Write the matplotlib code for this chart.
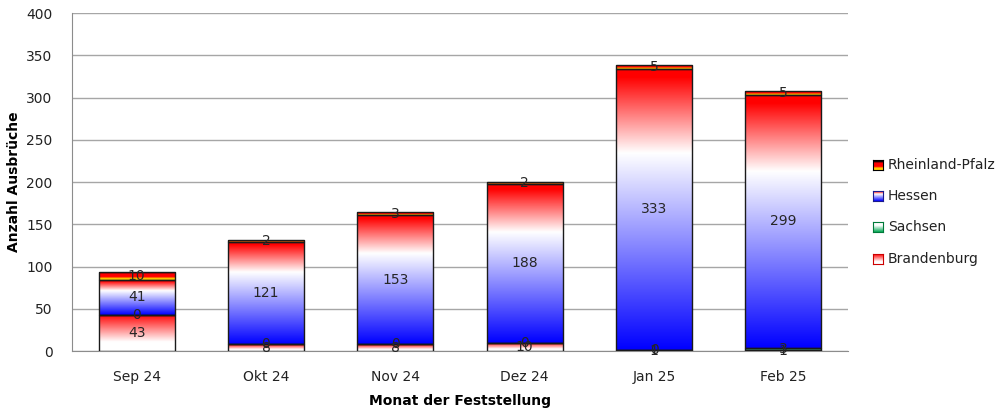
import numpy as np
import matplotlib
matplotlib.use("Agg")
import matplotlib.pyplot as plt
from matplotlib.colors import LinearSegmentedColormap

# =========================
# DATA
# =========================
months = ["Sep 24", "Okt 24", "Nov 24", "Dez 24", "Jan 25", "Feb 25"]
brandenburg = [43, 8, 8, 10, 1, 1]
sachsen = [0, 0, 0, 0, 0, 3]
hessen = [41, 121, 153, 188, 333, 299]
rheinland_pfalz = [10, 2, 3, 2, 5, 5]

series = [
    ("Brandenburg", brandenburg),
    ("Sachsen", sachsen),
    ("Hessen", hessen),
    ("Rheinland-Pfalz", rheinland_pfalz),
]

# =========================
# GRADIENTS (bottom -> top)
# =========================
GRADIENTS = {
    "Brandenburg": LinearSegmentedColormap.from_list(
        "bb", [(0, "#ffffff"), (0.25, "#ffffff"), (1, "#ff0000")]),
    "Sachsen": LinearSegmentedColormap.from_list(
        "sn", [(0, "#00a651"), (0.6, "#ffffff"), (1, "#ffffff")]),
    "Hessen": LinearSegmentedColormap.from_list(
        "he", [(0, "#0000ff"), (0.7, "#ffffff"), (0.97, "#ff0000"), (1, "#ff0000")]),
    "Rheinland-Pfalz": LinearSegmentedColormap.from_list(
        "rp", [(0, "#ffcc00"), (0.2, "#ffcc00"), (0.35, "#ff0000"),
               (0.7, "#ff0000"), (0.85, "#000000"), (1, "#000000")]),
}
grad = np.linspace(0, 1, 256).reshape(-1, 1)

fig = plt.figure(figsize=(9.97, 4.11), dpi=100)
ax = fig.add_axes([72 / 997, 60 / 411, 776 / 997, 338 / 411])

x = np.arange(len(months))
width = 0.59
bottom = np.zeros(len(months))

for name, vals in series:
    vals = np.array(vals, dtype=float)
    bars = ax.bar(x, vals, width, bottom=bottom, facecolor="none",
                  edgecolor="#1a1a1a", linewidth=1.0, zorder=3)
    for rect, v in zip(bars, vals):
        if v <= 0:
            continue
        x0, y0 = rect.get_x(), rect.get_y()
        im = ax.imshow(grad, cmap=GRADIENTS[name], origin="lower", aspect="auto",
                       extent=(x0, x0 + rect.get_width(), y0, y0 + rect.get_height()),
                       zorder=2, interpolation="bilinear")
        im.set_clip_path(rect)
    ax.bar_label(bars, labels=[f"{int(v)}" for v in vals], label_type="center",
                 fontsize=10, color="#262626", zorder=5)
    bottom += vals

ax.set_xlim(-0.5, len(months) - 0.5)
ax.set_ylim(0, 400)
ax.set_yticks(range(0, 401, 50))
ax.set_xticks(x)
ax.set_xticklabels(months)
ax.tick_params(axis="both", length=0, labelsize=10, colors="#222222")
ax.tick_params(axis="x", pad=14)
ax.tick_params(axis="y", pad=14)
ax.grid(axis="y", color="#a6a6a6", linewidth=1, zorder=0)
ax.set_axisbelow(True)
for s in ["top", "right"]:
    ax.spines[s].set_visible(False)
for s in ["left", "bottom"]:
    ax.spines[s].set_color("#8c8c8c")

ax.set_ylabel("Anzahl Ausbrüche", fontsize=10, fontweight="bold", labelpad=4)
ax.set_xlabel("Monat der Feststellung", fontsize=10, fontweight="bold", labelpad=7)

# =========================
# LEGEND (gradient swatches)
# =========================
legend_y = {"Rheinland-Pfalz": 165, "Hessen": 196, "Sachsen": 227, "Brandenburg": 259}
edge_col = {"Rheinland-Pfalz": "#000000", "Hessen": "#1a1a8c",
            "Sachsen": "#007a3a", "Brandenburg": "#cc0000"}
for name, yc in legend_y.items():
    sw = fig.add_axes([873 / 997, (411 - yc - 5) / 411, 10 / 997, 10 / 411])
    sw.imshow(grad, cmap=GRADIENTS[name], origin="lower", aspect="auto")
    sw.set_xticks([])
    sw.set_yticks([])
    for sp in sw.spines.values():
        sp.set_color(edge_col[name])
        sp.set_linewidth(0.8)
    fig.text(888 / 997, (411 - yc) / 411, name, fontsize=10, va="center",
             ha="left", color="#222222")

fig.savefig("out.png", dpi=100)
